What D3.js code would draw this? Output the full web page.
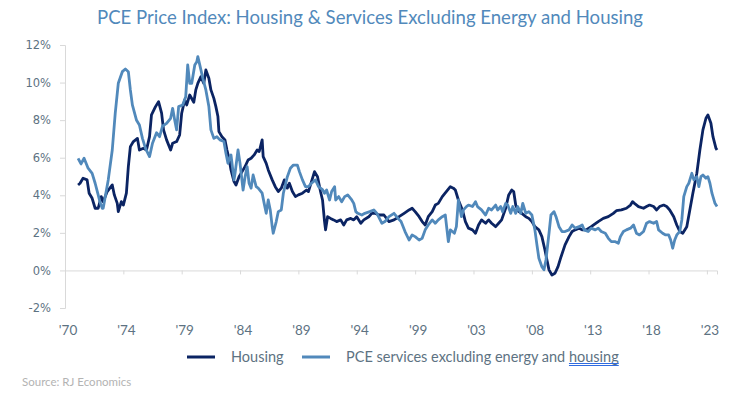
<!DOCTYPE html>
<html>
<head>
<meta charset="utf-8">
<script src="https://cdn.jsdelivr.net/npm/d3@7"></script>
<style>
  body { margin: 0; background: #fff; }
  svg { display: block; }
</style>
</head>
<body>
<svg id="chart" width="740" height="396"></svg>
<script>
// Housing, YoY % change
const housingDates = ["1971-02","1971-04","1971-07","1971-11","1972-01","1972-04","1972-07","1972-10","1973-01","1973-03","1973-07","1973-12","1974-02","1974-05","1974-06","1974-09","1974-11","1975-02","1975-04","1975-06","1975-09","1976-01","1976-03","1976-07","1976-10","1977-01","1977-03","1977-07","1977-10","1978-01","1978-03","1978-06","1978-10","1978-12","1979-04","1979-07","1979-09","1979-12","1980-02","1980-05","1980-09","1980-11","1981-01","1981-04","1981-07","1981-09","1981-12","1982-02","1982-05","1982-07","1982-09","1982-10","1983-01","1983-04","1983-06","1983-08","1983-10","1984-01","1984-03","1984-06","1984-09","1984-12","1985-03","1985-06","1985-09","1985-12","1986-02","1986-05","1986-06","1986-09","1986-11","1987-03","1987-06","1987-09","1987-12","1988-03","1988-06","1988-08","1988-11","1989-02","1989-05","1989-09","1990-01","1990-03","1990-06","1990-09","1990-12","1991-03","1991-05","1991-07","1991-08","1991-10","1992-01","1992-04","1992-07","1992-11","1993-02","1993-05","1993-09","1993-12","1994-03","1994-07","1994-10","1995-03","1995-06","1995-09","1996-01","1996-06","1996-11","1997-04","1997-09","1998-02","1998-07","1998-10","1999-01","1999-05","1999-08","1999-11","2000-02","2000-06","2000-09","2000-12","2001-04","2001-08","2001-12","2002-03","2002-05","2002-08","2002-12","2003-03","2003-06","2003-10","2004-01","2004-04","2004-07","2004-11","2005-02","2005-05","2005-09","2005-12","2006-03","2006-07","2006-10","2007-01","2007-03","2007-05","2007-08","2007-11","2008-03","2008-06","2008-09","2008-12","2009-04","2009-07","2009-10","2009-12","2010-02","2010-05","2010-08","2010-11","2011-02","2011-06","2011-10","2012-01","2012-04","2012-08","2012-11","2013-03","2013-08","2014-03","2014-08","2015-01","2015-06","2015-09","2016-02","2016-07","2016-11","2017-01","2017-03","2017-07","2017-12","2018-03","2018-06","2018-10","2019-01","2019-04","2019-08","2019-11","2020-02","2020-06","2020-09","2020-12","2021-03","2021-07","2021-10","2022-01","2022-05","2022-08","2022-11","2023-02","2023-04","2023-07","2023-09","2023-12","2024-01"];
const housingValues = [4.55,4.64,4.91,4.82,4.11,3.84,3.31,3.31,3.93,3.66,4.20,4.55,4.02,3.57,3.13,3.66,3.48,4.11,5.53,6.59,6.86,7.03,6.41,6.50,6.41,7.12,8.28,8.72,8.98,8.37,7.48,6.95,6.41,6.77,6.86,7.21,8.37,9.07,8.81,9.34,8.95,9.61,9.96,10.31,9.96,10.67,10.23,9.61,9.16,8.72,8.19,7.39,7.12,6.95,6.41,5.97,5.35,4.73,4.55,4.99,5.26,5.53,5.88,5.97,6.15,6.41,6.33,6.95,6.06,5.70,5.35,4.82,4.46,4.20,4.38,4.82,4.38,4.64,4.20,3.93,4.02,4.11,4.28,4.20,4.73,5.26,4.99,4.20,3.75,2.60,2.16,2.86,2.77,2.69,2.60,2.69,2.42,2.69,2.77,2.69,2.86,2.51,2.69,2.86,3.04,3.04,2.95,2.95,2.60,2.69,2.86,3.04,3.22,3.31,3.13,2.86,2.60,2.42,2.86,3.13,3.48,3.57,3.93,4.20,4.46,4.38,4.28,3.75,3.22,2.60,2.25,2.16,1.98,2.42,2.69,2.51,2.69,2.51,2.33,2.51,2.69,3.31,4.02,4.28,4.20,3.48,3.13,3.04,2.86,2.77,2.60,2.33,2.16,1.80,1.09,0.56,0.03,-0.24,-0.15,0.20,0.73,1.36,1.80,2.07,2.16,2.25,2.16,2.16,2.33,2.60,2.77,2.86,3.04,3.18,3.22,3.31,3.48,3.66,3.57,3.40,3.31,3.40,3.48,3.40,3.22,3.40,3.48,3.40,3.22,2.86,2.42,2.07,1.98,2.33,3.22,4.11,5.17,6.41,7.48,8.10,8.28,7.83,7.12,6.50,6.41];

// PCE services excluding energy and housing, YoY % change
const servicesDates = ["1971-02","1971-05","1971-08","1971-12","1972-04","1972-07","1972-10","1972-12","1973-02","1973-03","1973-08","1973-12","1974-03","1974-06","1974-10","1975-01","1975-04","1975-06","1975-08","1975-12","1976-03","1976-06","1976-09","1977-01","1977-04","1977-08","1977-11","1978-02","1978-06","1978-10","1978-12","1979-02","1979-04","1979-06","1979-10","1980-01","1980-03","1980-05","1980-07","1980-10","1980-12","1981-01","1981-03","1981-06","1981-09","1981-12","1982-02","1982-05","1982-08","1982-11","1983-03","1983-05","1983-07","1983-09","1983-10","1984-01","1984-02","1984-05","1984-07","1984-10","1984-12","1985-02","1985-04","1985-06","1985-08","1985-11","1986-01","1986-05","1986-07","1986-09","1986-11","1987-01","1987-03","1987-04","1987-07","1987-09","1987-12","1988-02","1988-06","1988-09","1988-12","1989-04","1989-06","1989-09","1989-12","1990-03","1990-06","1990-10","1991-01","1991-05","1991-07","1991-09","1991-12","1992-02","1992-05","1992-06","1992-09","1992-12","1993-03","1993-06","1993-10","1993-12","1994-02","1994-04","1994-08","1994-11","1995-04","1995-08","1995-11","1996-04","1996-07","1996-11","1997-04","1997-08","1997-11","1998-03","1998-07","1998-10","1999-01","1999-05","1999-08","1999-11","2000-02","2000-06","2000-09","2000-12","2001-04","2001-07","2001-10","2001-12","2002-02","2002-04","2002-06","2002-08","2002-11","2003-01","2003-04","2003-06","2003-10","2004-01","2004-03","2004-07","2004-11","2005-02","2005-05","2005-09","2005-11","2006-02","2006-04","2006-07","2006-09","2006-12","2007-02","2007-05","2007-07","2007-10","2007-12","2008-03","2008-06","2008-09","2008-12","2009-02","2009-04","2009-07","2009-09","2009-11","2010-02","2010-04","2010-07","2010-09","2010-12","2011-03","2011-06","2011-10","2012-01","2012-04","2012-08","2012-11","2013-01","2013-05","2013-08","2013-12","2014-03","2014-06","2014-10","2015-01","2015-04","2015-08","2015-11","2016-01","2016-04","2016-07","2016-11","2017-02","2017-05","2017-08","2017-12","2018-03","2018-06","2018-10","2019-01","2019-03","2019-07","2019-10","2020-01","2020-03","2020-05","2020-07","2020-09","2020-12","2021-02","2021-04","2021-07","2021-09","2021-12","2022-02","2022-05","2022-07","2022-09","2022-11","2023-02","2023-04","2023-06","2023-08","2023-11","2024-01"];
const servicesValues = [5.97,5.67,5.97,5.44,5.17,4.64,4.02,3.60,3.31,3.31,4.82,6.41,8.37,9.96,10.58,10.72,10.58,9.61,8.81,8.01,7.74,7.03,6.50,6.06,6.77,7.33,7.12,7.69,7.83,8.10,8.63,8.01,7.48,8.72,8.81,9.25,10.94,9.96,9.96,10.94,11.11,11.38,10.94,10.23,9.61,8.72,7.48,7.03,7.12,6.95,6.86,6.24,5.70,6.06,6.15,4.82,5.17,6.41,5.70,4.28,4.99,5.53,4.64,4.38,5.08,4.46,4.38,4.11,3.57,3.04,3.75,3.22,2.33,1.98,2.60,3.13,3.22,4.11,4.99,5.44,5.61,5.61,5.26,4.82,4.46,4.46,4.64,4.82,4.46,4.30,4.11,4.28,3.75,4.20,4.46,3.75,3.93,3.66,3.93,4.02,3.75,3.57,3.13,3.04,2.95,3.04,3.13,3.22,3.04,2.51,2.60,2.86,3.04,2.77,2.60,2.07,1.62,1.89,1.80,1.62,1.71,2.16,2.42,2.69,2.51,2.69,2.86,2.95,1.53,2.16,2.07,1.98,2.33,3.75,2.86,3.22,3.40,3.48,3.40,3.66,3.40,3.22,2.95,3.31,3.22,3.48,3.22,3.40,3.13,3.57,3.48,3.04,3.40,3.04,3.40,3.04,3.57,3.04,3.13,2.95,2.16,1.36,0.65,0.20,0.03,0.56,1.98,2.95,3.13,2.86,2.33,2.07,2.07,2.16,2.42,2.25,2.33,2.42,2.16,2.07,2.25,2.16,2.25,2.07,1.98,1.71,1.53,1.53,1.45,1.80,2.07,2.16,2.25,2.42,1.98,1.89,2.07,2.51,2.60,2.51,2.60,2.16,1.98,1.89,1.89,1.62,1.18,1.62,1.89,2.07,2.69,3.93,4.46,4.64,5.17,4.82,4.99,4.46,4.99,5.08,4.91,4.99,4.64,4.11,3.57,3.40];

const yTicks = [-2, 0, 2, 4, 6, 8, 10, 12];
const seriesNames = ["Housing", "PCE services excluding energy and housing"];
const seriesColors = ["#0b2463", "#5189bb"];
const labelStepMonths = 58;   // Excel category axis label interval
const labelCount = 12;

const parse = d3.timeParse("%Y-%m");
const margin = { top: 45, right: 23, bottom: 88, left: 65 },
    width = 740 - margin.left - margin.right,
    height = 396 - margin.top - margin.bottom;

const svg = d3.select("#chart");
const g = svg.append("g").attr("transform", `translate(${margin.left},${margin.top})`);

const x = d3.scaleTime()
    .domain([parse("1970-01"), parse("2024-01")])
    .range([0, width]);

const y = d3.scaleLinear()
    .domain([-2, 12])
    .range([height, 0]);

const tickDates = d3.range(labelCount).map(k => d3.timeMonth.offset(parse("1970-01"), k * labelStepMonths));

// y axis
const yAxis = g.append("g")
    .call(d3.axisLeft(y).tickValues(yTicks).tickSize(5).tickPadding(9).tickFormat(d => d + "%"));
yAxis.select(".domain").attr("stroke", "#d9d9d9");
yAxis.selectAll(".tick line").attr("stroke", "#d9d9d9");
yAxis.selectAll("text")
    .attr("fill", "#5d7282")
    .style("font-family", "'DejaVu Sans', sans-serif")
    .style("font-size", "11.5px");

// x axis sits on the 0% line, labels at the bottom
const xAxis = g.append("g")
    .attr("transform", `translate(0,${y(0)})`)
    .call(d3.axisBottom(x).tickValues(tickDates).tickSize(4).tickFormat(""));
xAxis.select(".domain").attr("stroke", "#d9d9d9");
xAxis.selectAll(".tick line").attr("stroke", "#d9d9d9");

g.selectAll(".x_label").data(tickDates).join("text").attr("class", "x_label")
    .attr("x", d => x(d) + 3)
    .attr("y", height + 27)
    .attr("text-anchor", "middle")
    .attr("fill", "#5d7282")
    .style("font-family", "Lato, sans-serif")
    .style("font-size", "13.5px")
    .text(d => "'" + d3.timeFormat("%y")(d));

// lines
const line = d3.line()
    .x(d => x(d[0]))
    .y(d => y(d[1]))
    .curve(d3.curveLinear);

const series = [
    housingDates.map((d, i) => [parse(d), housingValues[i]]),
    servicesDates.map((d, i) => [parse(d), servicesValues[i]])
];

g.selectAll(".series").data(series).join("path").attr("class", "series")
    .attr("d", line)
    .attr("fill", "none")
    .attr("stroke", (d, i) => seriesColors[i])
    .attr("stroke-width", 2.8)
    .attr("stroke-linejoin", "round");

// title
const title = svg.append("text")
    .attr("x", 370)
    .attr("y", 24)
    .attr("text-anchor", "middle")
    .attr("fill", "#5189bb")
    .style("font-family", "Lato, sans-serif")
    .style("font-size", "19px")
    .text("PCE Price Index: Housing & Services Excluding Energy and Housing");
if (title.node().getComputedTextLength() > 546) {
    title.attr("textLength", 546).attr("lengthAdjust", "spacingAndGlyphs");
}

// legend
const legendX = [187, 302];
const legend = svg.selectAll(".legend").data(seriesNames).join("g").attr("class", "legend")
    .attr("transform", (d, i) => `translate(${legendX[i]},357)`);
legend.append("line")
    .attr("x1", 0).attr("x2", 28)
    .attr("stroke", (d, i) => seriesColors[i])
    .attr("stroke-width", 3);
const legendText = legend.append("text")
    .attr("x", 44)
    .attr("y", 5)
    .attr("fill", "#5d7282")
    .style("font-family", "Lato, sans-serif")
    .style("font-size", "14.5px")
    .text(d => d);

// spell-check underline under the last word of the second entry
const t2 = legendText.nodes()[1];
const word = "housing";
const idx = seriesNames[1].lastIndexOf(word);
const ux = 302 + 44 + t2.getSubStringLength(0, idx);
const uw = t2.getSubStringLength(idx, word.length);
[363.5, 365.5].forEach(yy => {
    svg.append("line")
        .attr("x1", ux).attr("x2", ux + uw)
        .attr("y1", yy).attr("y2", yy)
        .attr("stroke", "#2f6be0")
        .attr("stroke-width", 1);
});

// source
svg.append("text")
    .attr("x", 22)
    .attr("y", 386)
    .attr("fill", "#b3b3b3")
    .style("font-family", "Lato, sans-serif")
    .style("font-size", "11.5px")
    .text("Source: RJ Economics");
</script>
</body>
</html>
